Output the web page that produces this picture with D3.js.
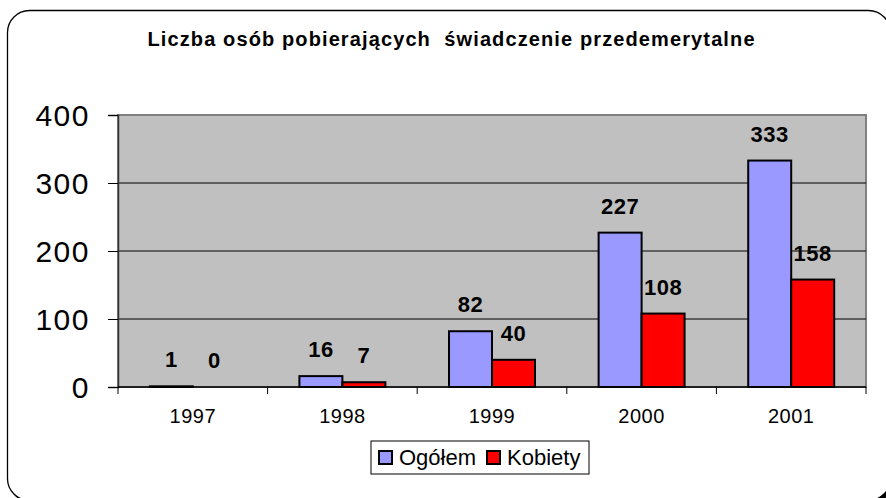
<!DOCTYPE html>
<html>
<head>
<meta charset="utf-8">
<script src="https://cdn.jsdelivr.net/npm/d3@7"></script>
<style>
	body { margin: 0; background: #fff; }
	text { font-family: "Liberation Sans", Arial, sans-serif; }
</style>
</head>
<body>
<div id="chart-area"></div>
<script>
let years = ["1997", "1998", "1999", "2000", "2001"];
let series = ["Ogółem", "Kobiety"];
let ogolem = [1, 16, 82, 227, 333];
let kobiety = [0, 7, 40, 108, 158];
let yTicks = [0, 100, 200, 300, 400];
let title = "Liczba osób pobierających  świadczenie przedemerytalne";

let W = 886, H = 498;
let margin = { left: 118, right: 20, top: 115, bottom: 111 };
let width = 866 - margin.left,
	height = 387 - margin.top;

let svg = d3.select("#chart-area")
	.append("svg")
	.attr("width", W)
	.attr("height", H);

// frame with shadow
svg.append("rect")
	.attr("x", 10).attr("y", 13.5)
	.attr("width", 883).attr("height", 490)
	.attr("rx", 22).attr("ry", 22)
	.attr("fill", "#000");
svg.append("rect")
	.attr("x", 7.5).attr("y", 10.5)
	.attr("width", 883).attr("height", 490)
	.attr("rx", 22).attr("ry", 22)
	.attr("fill", "#fff")
	.attr("stroke", "#000")
	.attr("stroke-width", 1.3);

svg.append("text")
	.attr("x", 451)
	.attr("y", 46)
	.attr("text-anchor", "middle")
	.attr("font-size", "20px")
	.attr("font-weight", "bold")
	.attr("textLength", 607)
	.attr("lengthAdjust", "spacing")
	.style("white-space", "pre")
	.text(title);

let g = svg.append("g")
	.attr("transform", "translate(" + margin.left + "," + margin.top + ")");

// Scales
let x0 = d3.scaleBand()
	.domain(years)
	.range([0, width])
	.padding(0);

let x1 = d3.scaleBand()
	.domain(series)
	.range([0, x0.bandwidth()])
	.paddingInner(0)
	.paddingOuter(0.74);

let y = d3.scaleLinear()
	.domain([0, 400])
	.range([height, 0]);

let color = d3.scaleOrdinal()
	.domain(series)
	.range(["#9999ff", "#ff0000"]);

// plot area
g.append("rect")
	.attr("width", width)
	.attr("height", height)
	.attr("fill", "#c0c0c0")
	.attr("stroke", "#808080")
	.attr("stroke-width", 2);

// gridlines
g.selectAll(".grid")
	.data(yTicks.filter(d => d > 0 && d < 400))
	.enter().append("line")
	.attr("x1", 0).attr("x2", width)
	.attr("y1", d => y(d)).attr("y2", d => y(d))
	.attr("stroke", "#000")
	.attr("stroke-width", 1);

// Y Axis
let yAxisCall = d3.axisLeft(y)
	.tickValues(yTicks)
	.tickSize(10)
	.tickPadding(18);
let yAxis = g.append("g").call(yAxisCall);
yAxis.select(".domain").attr("stroke", "#333").attr("stroke-width", 1.5);
yAxis.selectAll(".tick line").attr("stroke", "#000");
yAxis.selectAll("text")
	.attr("font-size", "30px")
	.attr("letter-spacing", "1.5px")
	.attr("fill", "#000")
	.attr("dy", "0.36em")
	.attr("font-family", "Liberation Sans, Arial, sans-serif");

// X Axis
let xAxis = g.append("g")
	.attr("transform", "translate(0," + height + ")");
xAxis.append("line")
	.attr("x1", 0).attr("x2", width)
	.attr("stroke", "#000").attr("stroke-width", 1.5);
xAxis.selectAll(".xtick")
	.data(years.concat(["end"]))
	.enter().append("line")
	.attr("x1", (d, i) => i * x0.step())
	.attr("x2", (d, i) => i * x0.step())
	.attr("y1", 0).attr("y2", 7)
	.attr("stroke", "#000");
xAxis.selectAll(".xlabel")
	.data(years)
	.enter().append("text")
	.attr("x", d => x0(d) + x0.bandwidth() / 2)
	.attr("y", 36)
	.attr("text-anchor", "middle")
	.attr("font-size", "20px")
	.attr("letter-spacing", "0.5px")
	.text(d => d);

// Bars
let rows = years.map((yr, i) => ({ year: yr, values: [ogolem[i], kobiety[i]] }));

let groups = g.selectAll(".group")
	.data(rows)
	.enter().append("g")
	.attr("transform", d => "translate(" + x0(d.year) + ",0)");

groups.selectAll("rect")
	.data(d => series.map((s, j) => ({ key: s, value: d.values[j] })))
	.enter().append("rect")
	.attr("x", d => x1(d.key))
	.attr("y", d => y(d.value))
	.attr("width", x1.bandwidth())
	.attr("height", d => height - y(d.value))
	.attr("fill", d => color(d.key))
	.attr("stroke", "#000")
	.attr("stroke-width", 2);

groups.selectAll(".label")
	.data(d => series.map((s, j) => ({ key: s, value: d.values[j] })))
	.enter().append("text")
	.attr("x", d => x1(d.key) + x1.bandwidth() / 2)
	.attr("y", d => y(d.value) - 19)
	.attr("text-anchor", "middle")
	.attr("font-size", "22px")
	.attr("font-weight", "bold")
	.attr("letter-spacing", "0.5px")
	.text(d => d.value);

// Legend
let legend = svg.append("g")
	.attr("transform", "translate(371,441)");
legend.append("rect")
	.attr("width", 218)
	.attr("height", 33)
	.attr("fill", "#fff")
	.attr("stroke", "#000")
	.attr("stroke-width", 1);

let legendX = [8, 116];
series.forEach((value, index) => {
	let row = legend.append("g")
		.attr("transform", "translate(" + legendX[index] + ",10)");
	row.append("rect")
		.attr("width", 13)
		.attr("height", 13)
		.attr("fill", color(value))
		.attr("stroke", "#000")
		.attr("stroke-width", 2);
	row.append("text")
		.attr("x", 20)
		.attr("y", 14)
		.attr("font-size", "22px")
		.text(value);
});
</script>
</body>
</html>
